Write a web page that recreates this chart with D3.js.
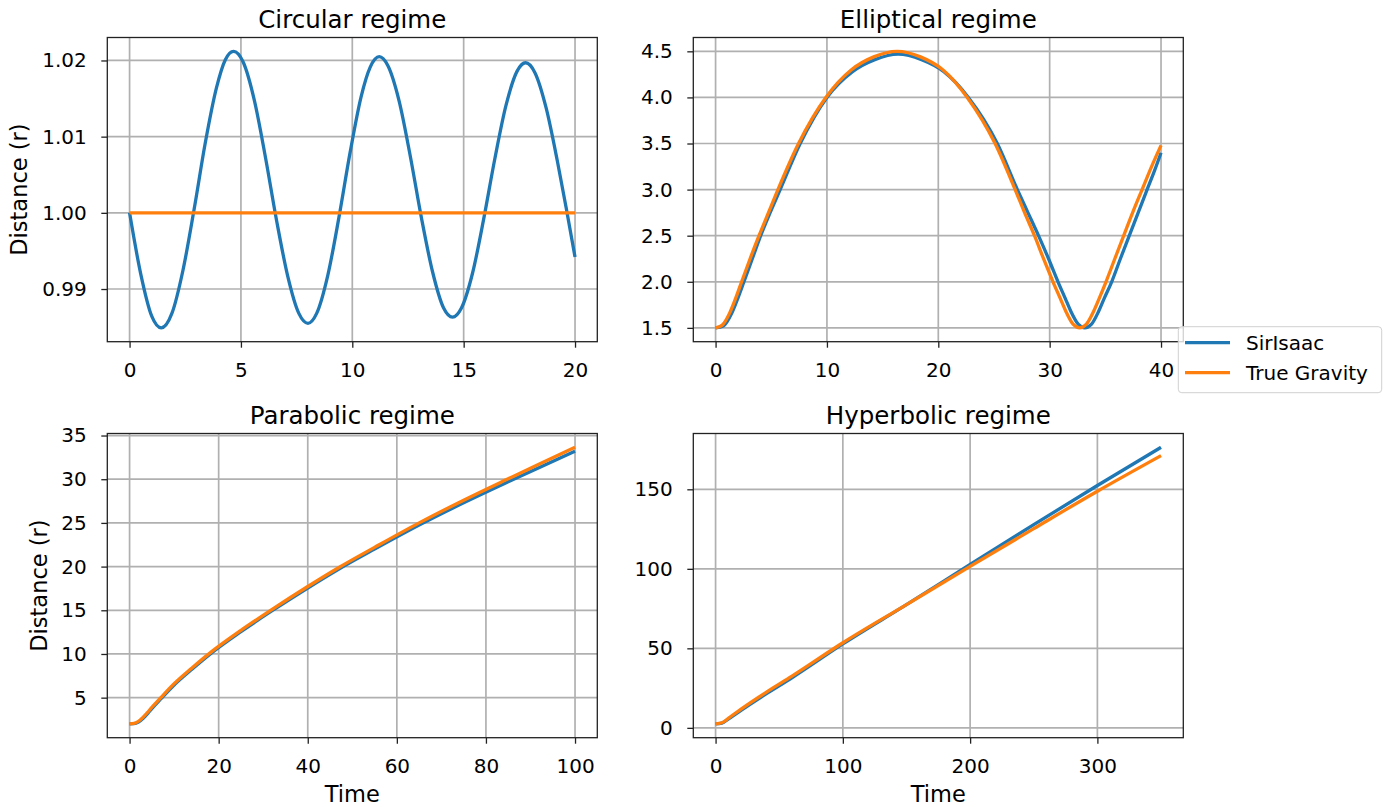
<!DOCTYPE html>
<html>
<head>
<meta charset="utf-8">
<script src="https://cdn.jsdelivr.net/npm/d3@7"></script>
<style>
	html, body { margin: 0; padding: 0; background: #fff; }
	text { font-family: "DejaVu Sans", sans-serif; fill: #000; }
</style>
</head>
<body>
<div id="chart"></div>
<script>
// [time, distance]
var circularSirIsaac = [[0, 1.0000], [0.5, 0.9920], [1.0, 0.9864], [1.42, 0.9849], [1.9, 0.9868], [2.4, 0.9925],
	[2.9, 1.0005], [3.4, 1.0092], [3.9, 1.0164], [4.3, 1.0201], [4.67, 1.0212], [5.1, 1.0198], [5.6, 1.0148],
	[6.1, 1.0073], [6.6, 0.9990], [7.1, 0.9917], [7.6, 0.9868], [8.01, 0.9855], [8.4, 0.9868], [8.9, 0.9918],
	[9.4, 0.9994], [9.9, 1.0079], [10.4, 1.0153], [10.8, 1.0191], [11.21, 1.0205], [11.6, 1.0193], [12.1, 1.0147],
	[12.6, 1.0075], [13.1, 0.9994], [13.6, 0.9923], [14.1, 0.9875], [14.5, 0.9863], [14.9, 0.9875], [15.4, 0.9921],
	[15.9, 0.9992], [16.4, 1.0071], [16.9, 1.0141], [17.4, 1.0186], [17.78, 1.0197], [18.2, 1.0184], [18.7, 1.0138],
	[19.2, 1.0069], [19.6, 1.0007], [20.0, 0.9942]];
var circularTrue = [[0, 1.0], [20, 1.0]];

var ellipticalSirIsaac = [[0, 1.50], [0.7, 1.52], [1.46, 1.66], [2.0, 1.82], [2.55, 2.0], [3.3, 2.25], [4.05, 2.5],
	[4.9, 2.75], [5.8, 3.0], [7.6, 3.5], [10.0, 4.0], [12.3, 4.28], [14.3, 4.41], [16.4, 4.47], [18.5, 4.41],
	[20.5, 4.28], [22.7, 4.0], [25.3, 3.5], [27.1, 3.0], [28.05, 2.75], [29.0, 2.5], [29.9, 2.25], [30.75, 2.0],
	[31.4, 1.82], [31.9, 1.68], [32.56, 1.54], [33.16, 1.50], [33.76, 1.54], [34.4, 1.68], [34.9, 1.82],
	[35.57, 2.0], [36.35, 2.25], [37.15, 2.5], [37.95, 2.75], [38.75, 3.0], [39.4, 3.2], [40, 3.40]];
var ellipticalTrue = [[0, 1.50], [0.6, 1.53], [1.26, 1.66], [1.8, 1.82], [2.34, 2.0], [3.1, 2.25], [3.9, 2.5],
	[4.75, 2.75], [5.6, 3.0], [7.45, 3.5], [9.9, 4.0], [12.2, 4.3], [14.2, 4.44], [16.3, 4.5], [18.4, 4.44],
	[20.4, 4.3], [22.6, 4.0], [25.1, 3.5], [26.9, 3.0], [27.75, 2.75], [28.64, 2.5], [29.45, 2.25], [30.3, 2.0],
	[30.95, 1.82], [31.45, 1.68], [32.1, 1.54], [32.7, 1.50], [33.3, 1.54], [33.95, 1.68], [34.45, 1.82],
	[35.06, 2.0], [35.85, 2.25], [36.65, 2.5], [37.45, 2.75], [38.3, 3.0], [39.15, 3.25], [40, 3.48]];

var parabolicSirIsaac = [[0, 2.0], [1, 2.02], [2, 2.2], [3, 2.6], [4, 3.15], [5, 3.75], [7, 4.85], [10, 6.45],
	[14, 8.25], [18, 9.95], [25, 12.55], [32, 14.95], [40, 17.55], [47, 19.72], [55, 22.0], [65, 24.75],
	[75, 27.3], [85, 29.7], [92, 31.35], [100, 33.2]];
var parabolicTrue = [[0, 2.0], [1, 2.05], [2, 2.3], [3, 2.75], [4, 3.3], [5, 3.9], [7, 5.0], [10, 6.6],
	[14, 8.4], [18, 10.1], [25, 12.7], [32, 15.1], [40, 17.72], [47, 19.9], [55, 22.2], [65, 25.0],
	[75, 27.6], [85, 30.05], [92, 31.75], [100, 33.65]];

var hyperbolicSirIsaac = [[0, 2.5], [5, 3.0], [10, 5.5], [20, 11.0], [40, 21.5], [60, 31.5], [100, 52.8],
	[150, 77.5], [200, 102.8], [250, 127.8], [300, 152.4], [350, 176.4]];
var hyperbolicTrue = [[0, 2.5], [5, 3.2], [10, 6.0], [20, 11.8], [40, 22.5], [60, 32.5], [100, 53.5],
	[150, 77.5], [200, 101.5], [250, 125.3], [300, 148.8], [350, 171.2]];

var titles = ["Circular regime", "Elliptical regime", "Parabolic regime", "Hyperbolic regime"];
var xTickList = [[0, 5, 10, 15, 20], [0, 10, 20, 30, 40], [0, 20, 40, 60, 80, 100], [0, 100, 200, 300]];
var yTickList = [[0.99, 1.00, 1.01, 1.02], [1.5, 2.0, 2.5, 3.0, 3.5, 4.0, 4.5], [5, 10, 15, 20, 25, 30, 35], [0, 50, 100, 150]];
var seriesNames = ["SirIsaac", "True Gravity"];
var colors = ["#1f77b4", "#ff7f0e"];

var W = 1387, H = 807;

var panels = [
	{ title: titles[0], sir: circularSirIsaac, tg: circularTrue, xt: xTickList[0], yt: yTickList[0], yf: d3.format(".2f"),
	  box: { l: 107.3, r: 597.3, t: 37.5, b: 341.7 }, ylabel: "Distance (r)", ylabelX: 26.5, xlabel: null },
	{ title: titles[1], sir: ellipticalSirIsaac, tg: ellipticalTrue, xt: xTickList[1], yt: yTickList[1], yf: d3.format(".1f"),
	  box: { l: 693.3, r: 1183.3, t: 37.5, b: 341.7 }, ylabel: null, xlabel: null },
	{ title: titles[2], sir: parabolicSirIsaac, tg: parabolicTrue, xt: xTickList[2], yt: yTickList[2], yf: d3.format("d"),
	  box: { l: 107.3, r: 597.3, t: 433.5, b: 737.7 }, ylabel: "Distance (r)", ylabelX: 47, xlabel: "Time" },
	{ title: titles[3], sir: hyperbolicSirIsaac, tg: hyperbolicTrue, xt: xTickList[3], yt: yTickList[3], yf: d3.format("d"),
	  box: { l: 693.3, r: 1183.3, t: 433.5, b: 737.7 }, ylabel: null, xlabel: "Time" }
];

var svg = d3.select("#chart").append("svg").attr("width", W).attr("height", H);
svg.append("rect").attr("width", W).attr("height", H).attr("fill", "#fff");

// matplotlib style 5% margins
function padded(ext) {
	var r = ext[1] - ext[0];
	return [ext[0] - 0.05 * r, ext[1] + 0.05 * r];
}

panels.forEach(function(p, i) {
	var all = p.sir.concat(p.tg);
	var x = d3.scaleLinear().domain(padded(d3.extent(all, function(d) { return d[0]; }))).range([p.box.l, p.box.r]);
	var y = d3.scaleLinear().domain(padded(d3.extent(all, function(d) { return d[1]; }))).range([p.box.b, p.box.t]);
	var g = svg.append("g");

	g.append("clipPath").attr("id", "clip" + i).append("rect")
		.attr("x", p.box.l).attr("y", p.box.t).attr("width", p.box.r - p.box.l).attr("height", p.box.b - p.box.t);

	// grid
	g.selectAll(".vg").data(p.xt).enter().append("line")
		.attr("x1", function(d) { return x(d); }).attr("x2", function(d) { return x(d); })
		.attr("y1", p.box.t).attr("y2", p.box.b)
		.attr("stroke", "#b0b0b0").attr("stroke-width", 1.7);
	g.selectAll(".hg").data(p.yt).enter().append("line")
		.attr("y1", function(d) { return y(d); }).attr("y2", function(d) { return y(d); })
		.attr("x1", p.box.l).attr("x2", p.box.r)
		.attr("stroke", "#b0b0b0").attr("stroke-width", 1.7);

	var line = d3.line().x(function(d) { return x(d[0]); }).y(function(d) { return y(d[1]); })
		.curve(d3.curveMonotoneX);
	[p.sir, p.tg].forEach(function(s, k) {
		g.append("path").datum(s).attr("d", line).attr("fill", "none")
			.attr("stroke", colors[k]).attr("stroke-width", 3.3)
			.attr("stroke-linejoin", "round").attr("stroke-linecap", "butt")
			.attr("clip-path", "url(#clip" + i + ")");
	});

	// axes
	var xa = g.append("g").attr("transform", "translate(0," + p.box.b + ")")
		.call(d3.axisBottom(x).tickValues(p.xt).tickSize(6).tickPadding(15.5).tickFormat(d3.format("d")));
	var ya = g.append("g").attr("transform", "translate(" + p.box.l + ",0)")
		.call(d3.axisLeft(y).tickValues(p.yt).tickSize(6).tickPadding(14.5).tickFormat(p.yf));
	[xa, ya].forEach(function(a) {
		a.select(".domain").remove();
		a.attr("font-family", "DejaVu Sans").attr("font-size", 20);
		a.selectAll(".tick line").attr("stroke", "#222").attr("stroke-width", 1.3);
		a.selectAll(".tick text").attr("fill", "#000");
	});

	// spines
	g.append("rect").attr("x", p.box.l).attr("y", p.box.t)
		.attr("width", p.box.r - p.box.l).attr("height", p.box.b - p.box.t)
		.attr("fill", "none").attr("stroke", "#222").attr("stroke-width", 1.3);

	g.append("text").attr("x", (p.box.l + p.box.r) / 2).attr("y", p.box.t - 9.5)
		.attr("text-anchor", "middle").attr("font-size", 24.5).text(p.title);

	if (p.ylabel) {
		g.append("text").attr("transform", "translate(" + p.ylabelX + "," + ((p.box.t + p.box.b) / 2) + ") rotate(-90)")
			.attr("text-anchor", "middle").attr("font-size", 22.5).text(p.ylabel);
	}
	if (p.xlabel) {
		g.append("text").attr("x", (p.box.l + p.box.r) / 2).attr("y", 802)
			.attr("text-anchor", "middle").attr("font-size", 22.5).text(p.xlabel);
	}
});

// legend
var lg = svg.append("g");
lg.append("rect").attr("x", 1178.3).attr("y", 326.7).attr("width", 203.4).attr("height", 66).attr("rx", 3.5)
	.attr("fill", "#fff").attr("fill-opacity", 0.8).attr("stroke", "#d0d0d0").attr("stroke-width", 1);
seriesNames.forEach(function(name, k) {
	var ly = 342.7 + k * 30;
	lg.append("line").attr("x1", 1185).attr("x2", 1230).attr("y1", ly).attr("y2", ly)
		.attr("stroke", colors[k]).attr("stroke-width", 3.3);
	lg.append("text").attr("x", 1246).attr("y", ly + 7.3).attr("font-size", 20).text(name);
});
</script>
</body>
</html>
